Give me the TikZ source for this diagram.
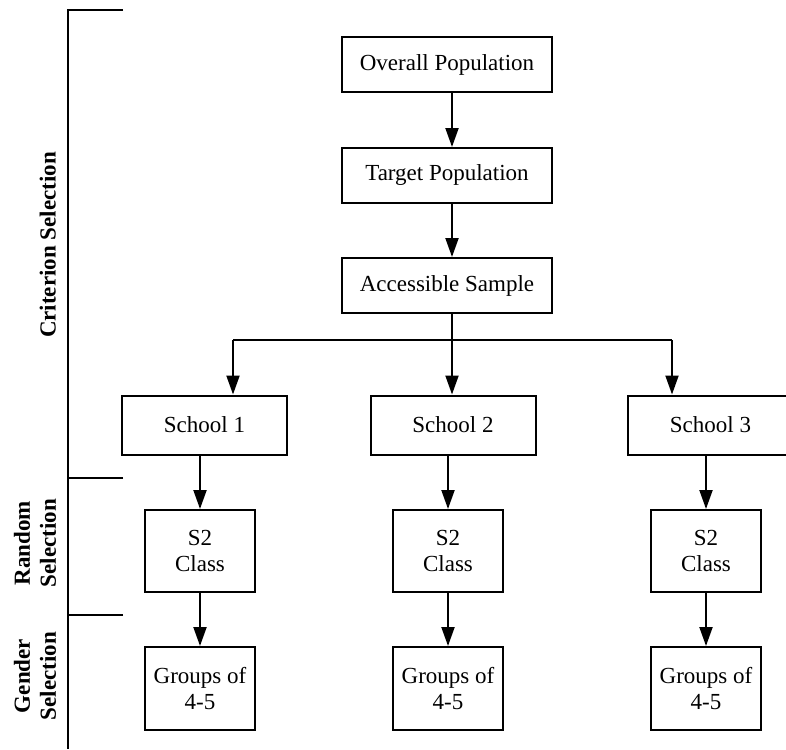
\documentclass[tikz,border=0pt]{standalone}
\usepackage{fontspec}
\setmainfont{Liberation Serif}
\usetikzlibrary{arrows.meta}
\begin{document}
\begin{tikzpicture}[x=1pt,y=-1pt,
  every node/.style={font=\fontsize{23}{26}\selectfont},
  box/.style={draw,line width=2pt,rectangle,inner sep=0pt,align=center,minimum height=55pt},
  wide/.style={box,minimum width=210pt},
  school/.style={box,minimum width=165pt,minimum height=59pt},
  small/.style={box,minimum width=110pt,minimum height=82pt},
  arr/.style={line width=2pt,-{Triangle[length=19pt,width=13pt]}},
  ln/.style={line width=2pt},
  side/.style={font=\fontsize{23}{26}\selectfont\bfseries,rotate=90,align=center,inner sep=0pt}]
\useasboundingbox (0,0) rectangle (786,749);
% bracket
\coordinate (bt) at (68,10);
\coordinate (bb) at (68,749);
\coordinate (t1) at (123,10);
\coordinate (t2) at (123,478);
\coordinate (t3) at (123,615);
\draw[ln] (t1) -- (bt) -- (bb);
\draw[ln] (t2) -- (t2 -| bt);
\draw[ln] (t3) -- (t3 -| bt);
\node[side,anchor=base] (lc) at (55.5,245) {Criterion Selection};
\node[side] (lr) at (35,543) {Random\\Selection};
\node[side] (lg) at (35,676) {Gender\\Selection};
% boxes
\node[wide] (ov) at (447,65) {Overall Population};
\node[wide] (tp) at (447,175.5) {Target Population};
\node[wide] (as) at (447,285.5) {Accessible Sample};
\node[school] (s1) at (204.5,425) {School 1};
\node[school] (s2) at (453,425) {School 2};
\node[school] (s3) at (710.5,425) {School 3};
\node[small] (c1) at (200,551) {S2\\Class};
\node[small] (c2) at (448,551) {S2\\Class};
\node[small] (c3) at (706,551) {S2\\Class};
\node[small,minimum height=83pt] (g1) at (200,688.5) {Groups of\\4-5};
\node[small,minimum height=83pt] (g2) at (448,688.5) {Groups of\\4-5};
\node[small,minimum height=83pt] (g3) at (706,688.5) {Groups of\\4-5};
% connectors
\draw[arr] ([xshift=5pt]ov.south) -- ([xshift=5pt]tp.north);
\draw[arr] ([xshift=5pt]tp.south) -- ([xshift=5pt]as.north);
\coordinate (jm) at (452,340);
\coordinate (j1) at (233,340);
\coordinate (j3) at (672,340);
\draw[ln] ([xshift=5pt]as.south) -- (jm);
\draw[ln] (j1) -- (j3);
\draw[arr] (j1) -- (j1 |- s1.north);
\draw[arr] (jm) -- (jm |- s2.north);
\draw[arr] (j3) -- (j3 |- s3.north);
\draw[arr] (s1.south -| c1) -- (c1.north);
\draw[arr] (s2.south -| c2) -- (c2.north);
\draw[arr] (s3.south -| c3) -- (c3.north);
\draw[arr] (c1) ++(0,0) (c1.south) -- (g1.north);
\draw[arr] (c2.south) -- (g2.north);
\draw[arr] (c3.south) -- (g3.north);
\end{tikzpicture}
\end{document}
